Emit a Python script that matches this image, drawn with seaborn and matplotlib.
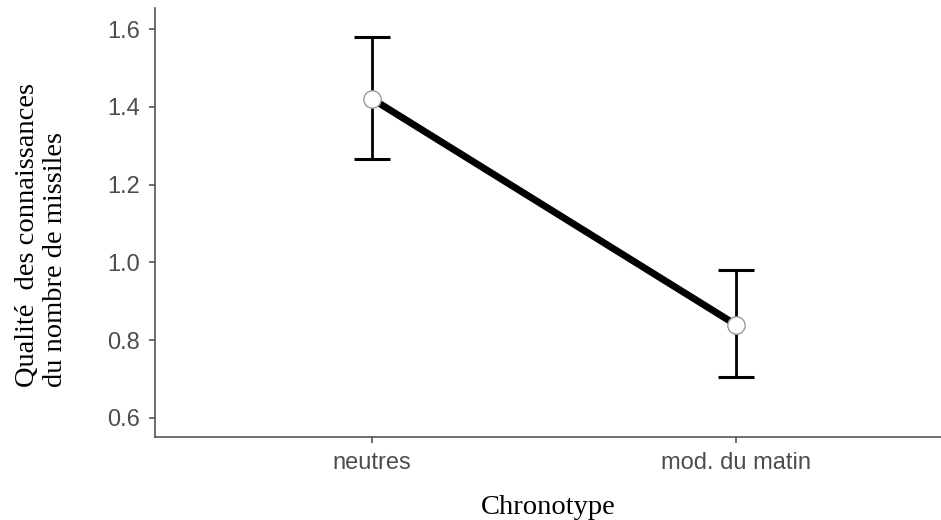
import matplotlib
matplotlib.use("Agg")
import matplotlib.pyplot as plt
import seaborn as sns
import numpy as np
import pandas as pd

# values
chronotype = ["neutres", "mod. du matin"]
moyenne = [1.42, 0.84]
ic_bas = [1.265, 0.705]
ic_haut = [1.58, 0.98]

df = pd.DataFrame({"Chronotype": chronotype, "Qualite": moyenne})

sns.set_style("white")
sns.set_context("paper")

fig = plt.figure(figsize=(9.41, 5.2), dpi=100)
ax = fig.add_axes([155 / 941, 83 / 520, 786 / 941, 429 / 520])

pos = np.arange(len(chronotype))
m = np.array(moyenne)
err = [m - np.array(ic_bas), np.array(ic_haut) - m]
ax.errorbar(pos, m, yerr=err, fmt="none", ecolor="black", elinewidth=2,
            capsize=13, capthick=2.2, zorder=1)

sns.pointplot(data=df, x="Chronotype", y="Qualite", errorbar=None,
              color="black", linewidth=5, markersize=12.5,
              markerfacecolor="white", markeredgecolor="#9a9a9a",
              markeredgewidth=1, ax=ax, zorder=3)

ax.set_xlim(-0.598, 1.565)
ax.set_ylim(0.551, 1.654)
ax.set_yticks([0.6, 0.8, 1.0, 1.2, 1.4, 1.6])
ax.set_yticklabels(["0.6", "0.8", "1.0", "1.2", "1.4", "1.6"])

for side in ["top", "right"]:
    ax.spines[side].set_visible(False)
for side in ["left", "bottom"]:
    ax.spines[side].set_color("#555555")
    ax.spines[side].set_linewidth(1.2)

ax.tick_params(axis="both", direction="out", length=4, width=1.2,
               color="#555555", labelcolor="#4d4d4d", labelsize=17,
               left=True, bottom=True, pad=7)
for lab in ax.get_xticklabels() + ax.get_yticklabels():
    lab.set_family(["Liberation Sans", "DejaVu Sans"])

ax.set_xlabel("Chronotype", family=["Liberation Serif", "DejaVu Serif"],
              fontsize=20.5, color="black", labelpad=15)
ax.set_ylabel("Qualité  des connaissances\ndu nombre de missiles",
              family=["Liberation Serif", "DejaVu Serif"], fontsize=20.5,
              color="black", multialignment="left", linespacing=1.15)
ax.yaxis.set_label_coords(-0.111, 0.47)

fig.savefig("out.png", dpi=100)
